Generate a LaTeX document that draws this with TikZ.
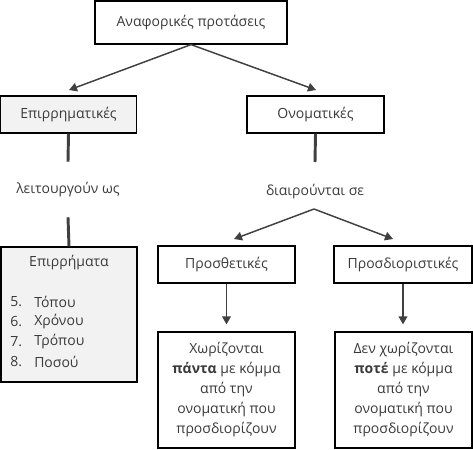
\documentclass[tikz,border=0pt]{standalone}
\usepackage{fontspec}
\setmainfont{Open Sans}
\usetikzlibrary{arrows.meta}
\definecolor{txt}{HTML}{3A3A3A}
\definecolor{ln}{HTML}{404040}
\definecolor{gfill}{HTML}{F2F2F2}
\begin{document}
\begin{tikzpicture}[x=0.75pt,y=-0.75pt,
  every node/.style={font=\fontsize{10.5pt}{15pt}\selectfont, text=txt},
  box/.style={draw=black, line width=0.9pt, inner sep=0pt, align=center, minimum height=37*0.75pt},
  arr/.style={draw=ln, line width=1.1pt, -{Triangle[length=6pt,width=6.5pt]}},
  thick line/.style={draw=ln, line width=2.2pt},
  lbl/.style={inner sep=0pt}]
\useasboundingbox (0,0) rectangle (473,449);
% boxes
\node[box, minimum width=192*0.75pt, minimum height=43*0.75pt] (top) at (191,22.5) {Αναφορικές προτάσεις};
\node[box, fill=gfill, minimum width=136*0.75pt] (epir) at (68.5,114.5) {Επιρρηματικές};
\node[box, minimum width=137*0.75pt] (onom) at (315.5,114.5) {Ονοματικές};
\node[box, fill=gfill, minimum width=136*0.75pt, minimum height=135*0.75pt] (adv) at (69,314.5) {};
\node[box, minimum width=137*0.75pt] (prosth) at (226.5,264.5) {Προσθετικές};
\node[box, minimum width=138*0.75pt] (prosd) at (403,264.5) {Προσδιοριστικές};
\node[box, minimum width=137*0.75pt, minimum height=116*0.75pt] (xor) at (226.5,390)
  {Χωρίζονται\\\textbf{πάντα} με κόμμα\\από την\\ονοματική που\\προσδιορίζουν};
\node[box, minimum width=137*0.75pt, minimum height=116*0.75pt] (den) at (403.5,390)
  {Δεν χωρίζονται\\\textbf{ποτέ} με κόμμα\\από την\\ονοματική που\\προσδιορίζουν};
% texts
\node[lbl, minimum height=55*0.75pt] (leit) at (68,189.5) {λειτουργούν ως};
\node[lbl] (diair) at (315,192) {διαιρούνται σε};
\node[lbl] (advt) at (69,263) {Επιρρήματα};
\node[lbl, anchor=west] (n5) at (10,302) {5.};
\node[lbl, anchor=west] (n6) at (10,322) {6.};
\node[lbl, anchor=west] (n7) at (10,342) {7.};
\node[lbl, anchor=west] (n8) at (10,362) {8.};
\node[lbl, anchor=west] (t5) at (34,302) {Τόπου};
\node[lbl, anchor=west] (t6) at (34,322) {Χρόνου};
\node[lbl, anchor=west] (t7) at (34,342) {Τρόπου};
\node[lbl, anchor=west] (t8) at (34,362) {Ποσού};
% coordinates
\coordinate (tl) at (69,90);
\coordinate (tr) at (316,90);
\coordinate (d0) at (315,162);
\coordinate (ds) at (314,209);
\coordinate (dl) at (234,239);
\coordinate (dr) at (393,239);
% connectors
\draw[arr] (top.south) -- (tl);
\draw[arr] (top.south) -- (tr);
\draw[thick line] (epir.south) -- (leit.north);
\draw[thick line] (leit.south) -- (adv.north);
\draw[thick line] (onom.south) -- (d0);
\draw[arr] (ds) -- (dl);
\draw[arr] (ds) -- (dr);
\draw[arr, shorten >=7*0.75pt] (prosth.south) -- (xor.north);
\draw[arr, shorten >=7*0.75pt] (prosd.south) -- (prosd.south |- den.north);
\end{tikzpicture}
\end{document}
